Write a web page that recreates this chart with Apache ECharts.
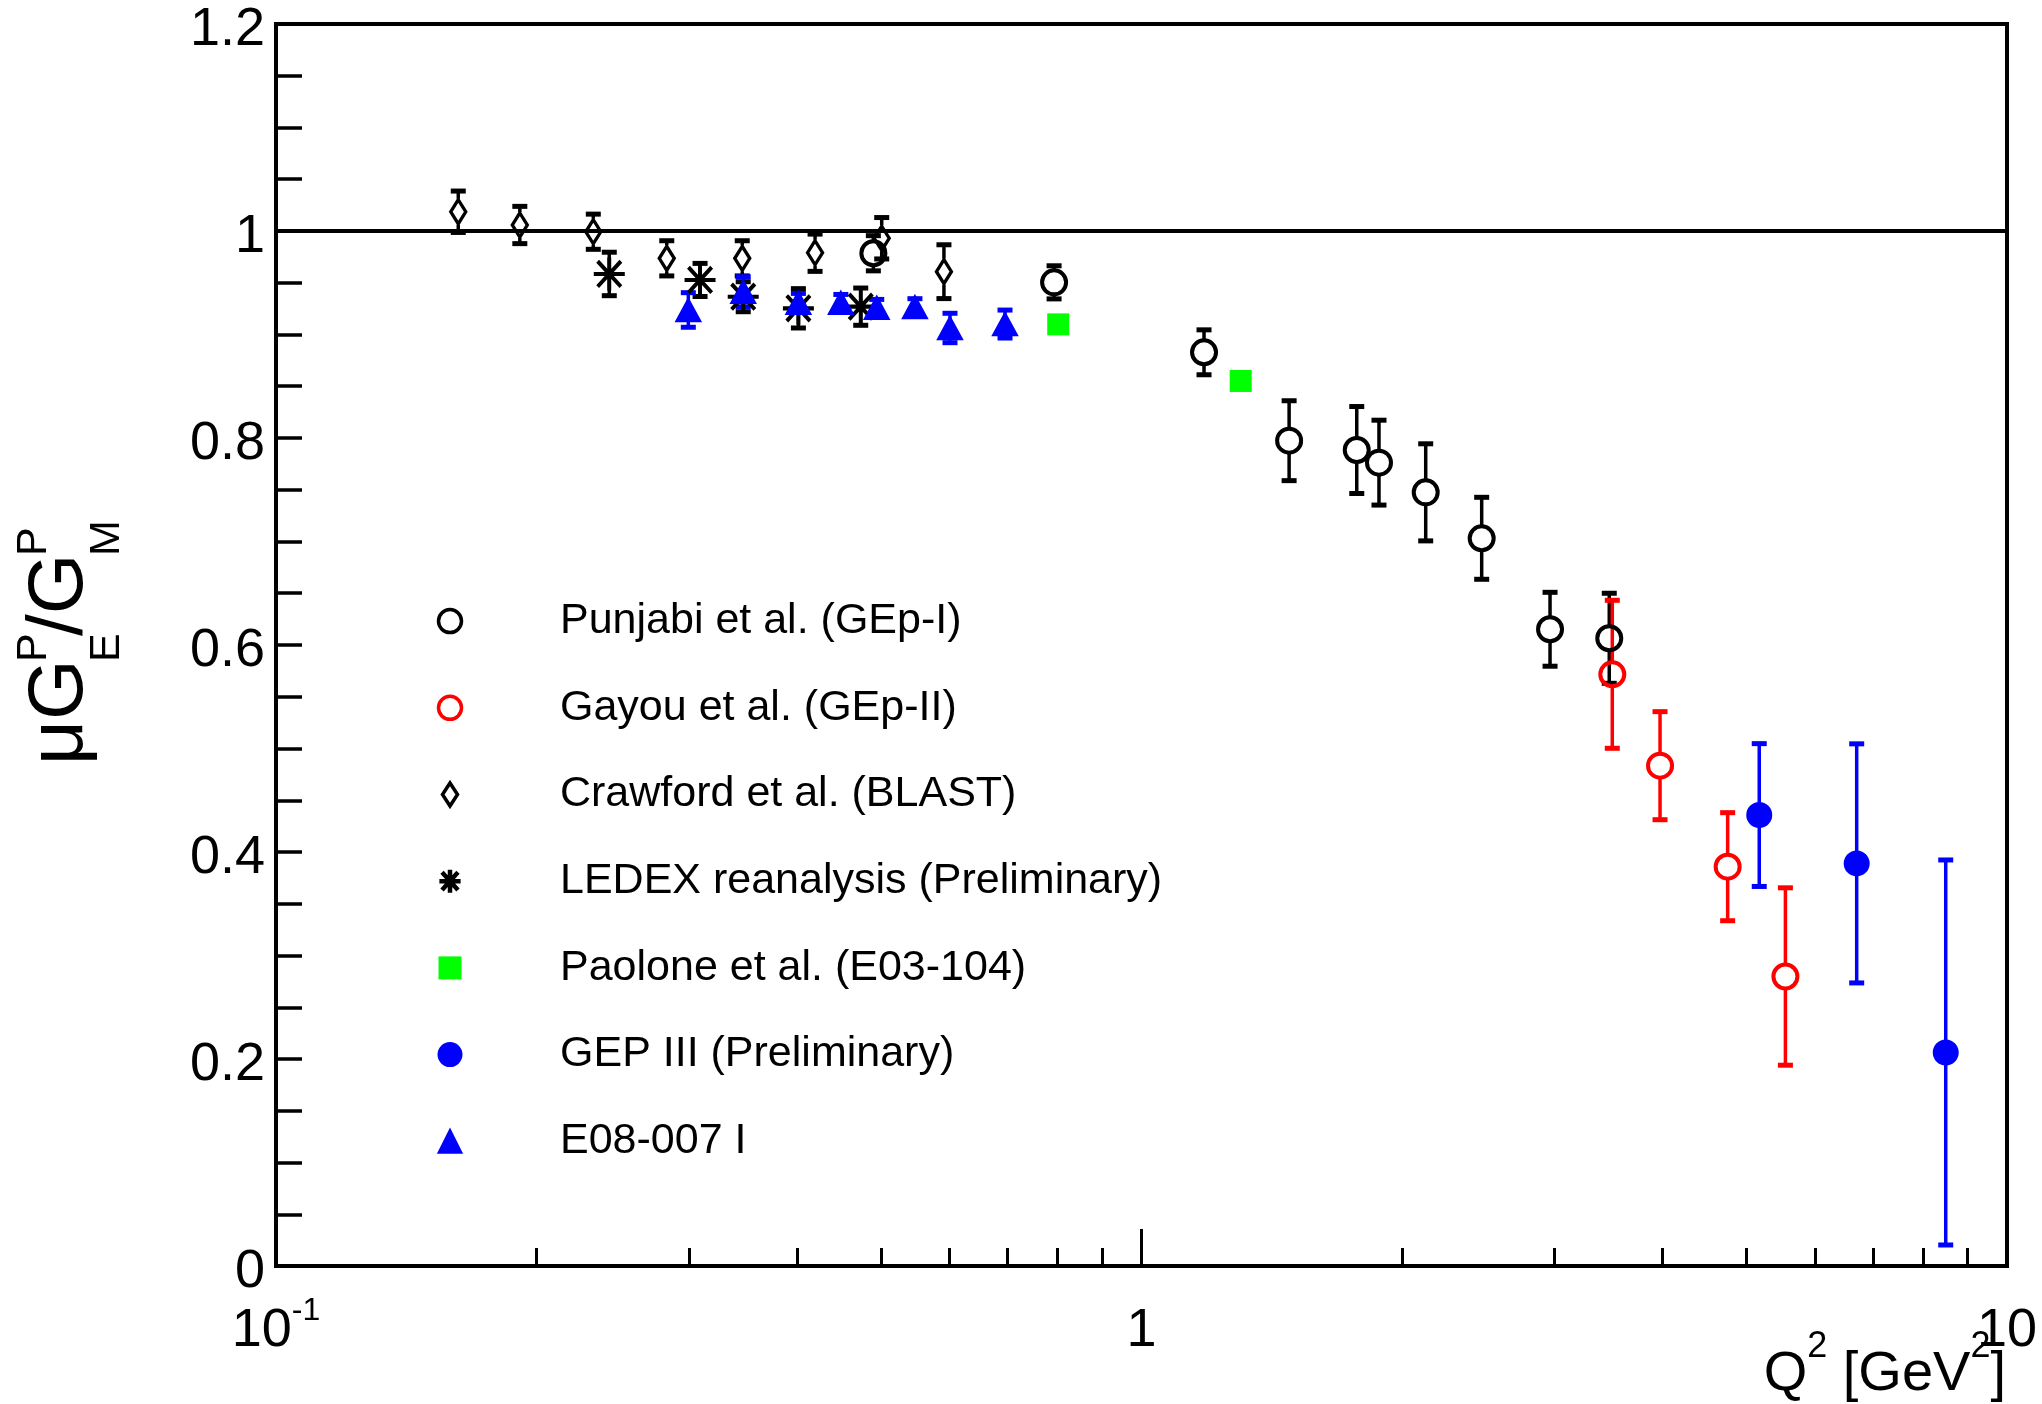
<!DOCTYPE html>
<html>
<head>
<meta charset="utf-8">
<title>Proton form factor ratio</title>
<script src="https://cdn.jsdelivr.net/npm/echarts@6.0.0/dist/echarts.min.js"></script>
<style>
  html, body { margin: 0; padding: 0; background: #fff; }
  #chart { width: 2042px; height: 1404px; }
</style>
</head>
<body>
<div id="chart"></div>
<script>
// ---- data: Q^2 [GeV^2], mu*GE/GM ratio, symmetric uncertainty ----
const punjabiQ2    = [0.490, 0.7925, 1.181, 1.481, 1.773, 1.881, 2.130, 2.472, 2.965, 3.471];
const punjabiRatio = [0.9785, 0.9504, 0.8828, 0.7974, 0.7884, 0.7762, 0.7475, 0.7031, 0.6152, 0.6065];
const punjabiErr   = [0.017, 0.016, 0.0217, 0.0386, 0.042, 0.041, 0.0469, 0.0396, 0.0357, 0.0435];

const gayouQ2    = [3.499, 3.973, 4.756, 5.546];
const gayouRatio = [0.5717, 0.4834, 0.3858, 0.2797];
const gayouErr   = [0.0715, 0.0522, 0.0522, 0.0857];

const crawfordQ2    = [0.1624, 0.1913, 0.2326, 0.2828, 0.3457, 0.4196, 0.5010, 0.5912];
const crawfordRatio = [1.0186, 1.0058, 0.9993, 0.9736, 0.9736, 0.9790, 0.9930, 0.9607];
const crawfordErr   = [0.020, 0.018, 0.017, 0.017, 0.017, 0.018, 0.020, 0.026];

const ledexQ2    = [0.2427, 0.3090, 0.3466, 0.4014, 0.4738];
const ledexRatio = [0.9585, 0.9527, 0.9365, 0.9253, 0.9269];
const ledexErr   = [0.021, 0.016, 0.0145, 0.019, 0.018];

const paoloneQ2    = [0.8013, 1.302];
const paoloneRatio = [0.9098, 0.8551];

const gep3Q2    = [5.173, 6.704, 8.496];
const gep3Ratio = [0.4357, 0.3890, 0.2063];
const gep3Err   = [0.069, 0.1155, 0.186];

const e08Q2    = [0.2995, 0.3466, 0.4014, 0.4494, 0.4944, 0.5473, 0.6008, 0.6955];
const e08Ratio = [0.9237, 0.9413, 0.9307, 0.9307, 0.9259, 0.9266, 0.9063, 0.9101];
const e08Err   = [0.0167, 0.0145, 0.009, 0.008, 0.008, 0.008, 0.0142, 0.0135];

const seriesNames = [
  'Punjabi et al. (GEp-I)',
  'Gayou et al. (GEp-II)',
  'Crawford et al. (BLAST)',
  'LEDEX reanalysis (Preliminary)',
  'Paolone et al. (E03-104)',
  'GEP III (Preliminary)',
  'E08-007 I'
];

// ---- axis ticks and labels ----
const xMajorTicks = [0.1, 1, 10];
const xMajorBase  = ['10', '1', '10'];
const xMajorExp   = ['-1', '', ''];
const xMinorTicks = [0.2, 0.3, 0.4, 0.5, 0.6, 0.7, 0.8, 0.9, 2, 3, 4, 5, 6, 7, 8, 9];
const yTickLabels = ['0', '0.2', '0.4', '0.6', '0.8', '1', '1.2'];

const FONT = "'Liberation Sans', Arial, Helvetica, sans-serif";
const BLACK = '#000000', RED = '#ff0000', GREEN = '#00ff00', BLUE = '#0000ff';
const NONE = 'rgba(0,0,0,0)';
const STAR = 'path://M12,0L12,26M0,13L24,13M3,3L21,23M3,23L21,3';
const DIAMOND = 'path://M7.5,0L15,11.5L7.5,23L0,11.5Z';

function pairs(xs, ys) { return xs.map((x, i) => [x, ys[i]]); }
function triples(xs, ys, es) { return xs.map((x, i) => [x, ys[i], es[i]]); }

// vertical error bar with end caps; the bar leaves a gap around hollow markers
function errorBars(name, xs, ys, es, color, gap) {
  return {
    type: 'custom',
    name: name + ' (errors)',
    silent: true,
    xAxisIndex: 0,
    yAxisIndex: 0,
    data: triples(xs, ys, es),
    encode: { x: 0, y: 1 },
    renderItem: function (params, api) {
      const x = api.value(0), y = api.value(1), e = api.value(2);
      const c = api.coord([x, y]);
      const t = api.coord([x, y + e]);
      const b = api.coord([x, y - e]);
      const line = { stroke: color, lineWidth: 3.5 };
      const cap = { stroke: color, lineWidth: 5 };
      const kids = [];
      if (t[1] < c[1] - gap) kids.push({ type: 'line', shape: { x1: c[0], y1: t[1], x2: c[0], y2: c[1] - gap }, style: line });
      if (b[1] > c[1] + gap) kids.push({ type: 'line', shape: { x1: c[0], y1: c[1] + gap, x2: c[0], y2: b[1] }, style: line });
      kids.push({ type: 'line', shape: { x1: c[0] - 7.5, y1: t[1], x2: c[0] + 7.5, y2: t[1] }, style: cap });
      kids.push({ type: 'line', shape: { x1: c[0] - 7.5, y1: b[1], x2: c[0] + 7.5, y2: b[1] }, style: cap });
      return { type: 'group', children: kids };
    }
  };
}

function markers(name, xs, ys, symbol, size, itemStyle, extra) {
  return Object.assign({
    type: 'scatter',
    name: name,
    xAxisIndex: 0,
    yAxisIndex: 0,
    data: pairs(xs, ys),
    symbol: symbol,
    symbolSize: size,
    itemStyle: Object.assign({ opacity: 1 }, itemStyle),
    emphasis: { disabled: true }
  }, extra || {});
}

const legendIcons = [
  { icon: 'circle', itemStyle: { color: NONE, borderColor: BLACK, borderWidth: 3.5, opacity: 1 } },
  { icon: 'circle', itemStyle: { color: NONE, borderColor: RED, borderWidth: 3.5, opacity: 1 } },
  { icon: DIAMOND, itemStyle: { color: NONE, borderColor: BLACK, borderWidth: 3.5, opacity: 1 } },
  { icon: STAR, itemStyle: { color: NONE, borderColor: BLACK, borderWidth: 4.5, opacity: 1 } },
  { icon: 'rect', itemStyle: { color: GREEN, borderWidth: 0, opacity: 1 } },
  { icon: 'circle', itemStyle: { color: BLUE, borderColor: BLUE, borderWidth: 2, opacity: 1 } },
  { icon: 'triangle', itemStyle: { color: BLUE, borderColor: BLUE, borderWidth: 2, opacity: 1 } }
];

const chart = echarts.init(document.getElementById('chart'), null, { renderer: 'canvas' });

const option = {
  animation: false,
  backgroundColor: '#ffffff',
  grid: {
    left: 276, right: 35, top: 24, bottom: 138,
    show: true, borderColor: BLACK, borderWidth: 4, backgroundColor: NONE
  },
  xAxis: [
    {
      type: 'log', logBase: 10, min: 0.1, max: 10, position: 'bottom',
      axisLine: { show: true, lineStyle: { color: BLACK, width: 4 } },
      axisTick: { show: true, inside: true, length: 37, customValues: xMajorTicks, lineStyle: { color: BLACK, width: 3 } },
      minorTick: { show: false },
      splitLine: { show: false },
      axisLabel: {
        show: true, margin: 35, showMinLabel: true, showMaxLabel: true,
        customValues: xMajorTicks,
        formatter: function (v) {
          let i = 0, best = Infinity;
          xMajorTicks.forEach((t, k) => { const d = Math.abs(Math.log10(t) - Math.log10(v)); if (d < best) { best = d; i = k; } });
          return '{b|' + xMajorBase[i] + '}' + (xMajorExp[i] ? '{s|' + xMajorExp[i] + '}' : '');
        },
        rich: {
          b: { fontFamily: FONT, fontSize: 54, color: BLACK, lineHeight: 60 },
          s: { fontFamily: FONT, fontSize: 32, color: BLACK, height: 20, verticalAlign: 'top' }
        }
      }
    },
    {
      type: 'log', logBase: 10, min: 0.1, max: 10, position: 'bottom', gridIndex: 0,
      axisLine: { show: false },
      axisTick: { show: true, inside: true, length: 18, customValues: xMinorTicks, lineStyle: { color: BLACK, width: 3 } },
      axisLabel: { show: false },
      splitLine: { show: false }
    }
  ],
  yAxis: {
    type: 'value', min: 0, max: 1.2, interval: 0.2,
    axisLine: { show: true, lineStyle: { color: BLACK, width: 4 } },
    axisTick: { show: true, inside: true, length: 26, lineStyle: { color: BLACK, width: 3.5 } },
    minorTick: { show: true, splitNumber: 4, length: 26, lineStyle: { color: BLACK, width: 3.5 } },
    splitLine: { show: false },
    axisLabel: {
      margin: 11, fontFamily: FONT, fontSize: 54, color: BLACK,
      verticalAlign: 'top', lineHeight: 12,
      showMinLabel: true, showMaxLabel: true,
      formatter: function (v) { return yTickLabels[Math.round(v / 0.2)]; }
    }
  },
  legend: {
    orient: 'vertical',
    left: 436.75, top: 599.6,
    padding: 0,
    itemWidth: 23, itemHeight: 23,
    itemGap: 43.7,
    selectedMode: false,
    data: seriesNames.map((n, i) => Object.assign({ name: n }, legendIcons[i])),
    formatter: function (name) { return '{g|}{t|' + name + '}'; },
    textStyle: {
      rich: {
        g: { width: 93.5, lineHeight: 30 },
        t: { fontFamily: FONT, fontSize: 43, color: BLACK, lineHeight: 30 }
      }
    }
  },
  graphic: [
    // y axis title: mu G^P_E / G^P_M, reading bottom to top
    { type: 'text', x: 60, y: 765, rotation: Math.PI / 2, silent: true,
      style: { text: '\u03BCG', fontFamily: FONT, fontSize: 78, fill: BLACK, align: 'left', verticalAlign: 'middle' } },
    { type: 'text', x: 34, y: 662, rotation: Math.PI / 2, silent: true,
      style: { text: 'P', fontFamily: FONT, fontSize: 43, fill: BLACK, align: 'left', verticalAlign: 'middle' } },
    { type: 'text', x: 107, y: 662, rotation: Math.PI / 2, silent: true,
      style: { text: 'E', fontFamily: FONT, fontSize: 43, fill: BLACK, align: 'left', verticalAlign: 'middle' } },
    { type: 'text', x: 60, y: 636, rotation: Math.PI / 2, silent: true,
      style: { text: '/G', fontFamily: FONT, fontSize: 78, fill: BLACK, align: 'left', verticalAlign: 'middle' } },
    { type: 'text', x: 34, y: 556, rotation: Math.PI / 2, silent: true,
      style: { text: 'P', fontFamily: FONT, fontSize: 43, fill: BLACK, align: 'left', verticalAlign: 'middle' } },
    { type: 'text', x: 107, y: 556, rotation: Math.PI / 2, silent: true,
      style: { text: 'M', fontFamily: FONT, fontSize: 43, fill: BLACK, align: 'left', verticalAlign: 'middle' } },
    // x axis title: Q^2 [GeV^2]
    { type: 'text', x: 2006, y: 1375, silent: true,
      style: {
        text: '{m|Q}{s|2}{m| [GeV}{s|2}{m|]}',
        align: 'right', verticalAlign: 'middle',
        rich: {
          m: { fontFamily: FONT, fontSize: 56, fill: BLACK, lineHeight: 80 },
          s: { fontFamily: FONT, fontSize: 36, fill: BLACK, height: 24, verticalAlign: 'top' }
        }
      } }
  ],
  series: [
    errorBars(seriesNames[0], punjabiQ2, punjabiRatio, punjabiErr, BLACK, 13),
    errorBars(seriesNames[1], gayouQ2, gayouRatio, gayouErr, RED, 13),
    errorBars(seriesNames[2], crawfordQ2, crawfordRatio, crawfordErr, BLACK, 13),
    errorBars(seriesNames[3], ledexQ2, ledexRatio, ledexErr, BLACK, 0),
    errorBars(seriesNames[5], gep3Q2, gep3Ratio, gep3Err, BLUE, 0),
    errorBars(seriesNames[6], e08Q2, e08Ratio, e08Err, BLUE, 0),

    markers(seriesNames[0], punjabiQ2, punjabiRatio, 'circle', 24,
      { color: NONE, borderColor: BLACK, borderWidth: 4 },
      { markLine: { silent: true, symbol: 'none', label: { show: false },
                    lineStyle: { color: BLACK, width: 4, type: 'solid', opacity: 1 },
                    emphasis: { disabled: true },
                    data: [{ yAxis: 1 }] } }),
    markers(seriesNames[1], gayouQ2, gayouRatio, 'circle', 24,
      { color: NONE, borderColor: RED, borderWidth: 4 }),
    markers(seriesNames[2], crawfordQ2, crawfordRatio, 'diamond', [15, 24],
      { color: NONE, borderColor: BLACK, borderWidth: 3.5 }),
    markers(seriesNames[3], ledexQ2, ledexRatio, STAR, [31, 33],
      { color: NONE, borderColor: BLACK, borderWidth: 4 }),
    markers(seriesNames[4], paoloneQ2, paoloneRatio, 'rect', 22,
      { color: GREEN }),
    markers(seriesNames[5], gep3Q2, gep3Ratio, 'circle', 24,
      { color: BLUE, borderColor: BLUE, borderWidth: 2 }),
    markers(seriesNames[6], e08Q2, e08Ratio, 'triangle', [25, 23],
      { color: BLUE, borderColor: BLUE, borderWidth: 1.5 })
  ]
};

chart.setOption(option);
</script>
</body>
</html>
